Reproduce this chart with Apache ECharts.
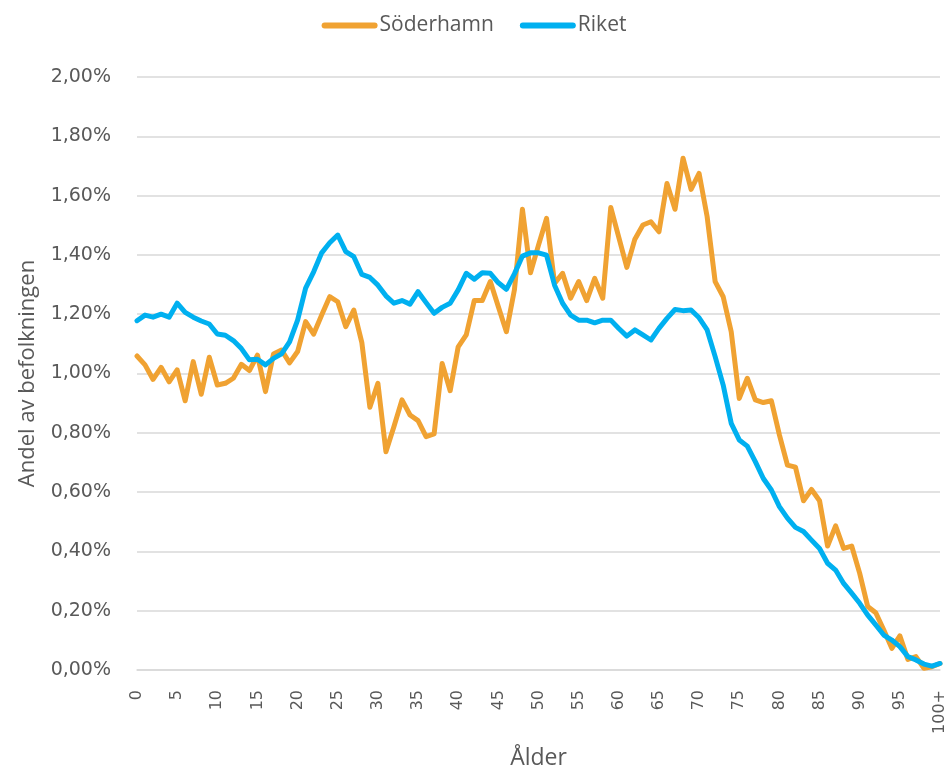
<!DOCTYPE html>
<html>
<head>
<meta charset="utf-8">
<title>Åldersfördelning</title>
<script src="https://cdn.jsdelivr.net/npm/echarts@6/dist/echarts.min.js"></script>
<style>
	html, body { margin: 0; padding: 0; background: #fff; }
	#chart { width: 948px; height: 769px; }
</style>
</head>
<body>
<div id="chart"></div>
<script>
	// ålder 0..100+
	var ages = [];
	for (var a = 0; a < 100; a++) ages.push(String(a));
	ages.push('100+');

	// andel av befolkningen, procent
	var soderhamn = [
		1.059, 1.029, 0.980, 1.021, 0.972, 1.012, 0.908, 1.040, 0.930, 1.055,
		0.961, 0.967, 0.984, 1.031, 1.010, 1.062, 0.939, 1.066, 1.079, 1.036,
		1.074, 1.175, 1.133, 1.197, 1.259, 1.242, 1.158, 1.214, 1.104, 0.886,
		0.967, 0.736, 0.821, 0.911, 0.860, 0.841, 0.787, 0.796, 1.034, 0.942,
		1.090, 1.130, 1.246, 1.246, 1.310, 1.225, 1.141, 1.282, 1.554, 1.340,
		1.433, 1.523, 1.304, 1.338, 1.254, 1.310, 1.246, 1.321, 1.254, 1.560,
		1.459, 1.358, 1.453, 1.501, 1.512, 1.478, 1.641, 1.554, 1.726, 1.621,
		1.675, 1.529, 1.310, 1.259, 1.141, 0.916, 0.984, 0.911, 0.902, 0.908,
		0.793, 0.691, 0.684, 0.571, 0.609, 0.571, 0.418, 0.486, 0.410, 0.418,
		0.326, 0.214, 0.193, 0.135, 0.073, 0.115, 0.036, 0.045, 0.006, 0.011,
		0.022
	];
	var riket = [
		1.178, 1.197, 1.190, 1.200, 1.190, 1.237, 1.206, 1.190, 1.177, 1.167,
		1.133, 1.129, 1.111, 1.084, 1.046, 1.048, 1.029, 1.051, 1.066, 1.107,
		1.180, 1.288, 1.343, 1.407, 1.441, 1.467, 1.411, 1.394, 1.334, 1.324,
		1.298, 1.262, 1.237, 1.246, 1.234, 1.276, 1.239, 1.203, 1.223, 1.237,
		1.282, 1.338, 1.318, 1.340, 1.338, 1.306, 1.284, 1.336, 1.396, 1.407,
		1.407, 1.399, 1.298, 1.237, 1.197, 1.180, 1.180, 1.171, 1.180, 1.180,
		1.152, 1.126, 1.147, 1.130, 1.113, 1.152, 1.186, 1.216, 1.212, 1.214,
		1.188, 1.147, 1.057, 0.961, 0.832, 0.776, 0.755, 0.703, 0.646, 0.607,
		0.551, 0.512, 0.481, 0.467, 0.438, 0.410, 0.360, 0.337, 0.292, 0.259,
		0.225, 0.185, 0.152, 0.118, 0.101, 0.079, 0.045, 0.034, 0.020, 0.013,
		0.022
	];

	var textColor = '#595959';
	var fontName = '"Open Sans", "Noto Sans", sans-serif';
	var numFont = '"DejaVu Sans", sans-serif';
	// rundad linje som legendsymbol
	var legendIcon = 'path://M3,0 L53,0 A3,3 0 0 1 53,6 L3,6 A3,3 0 0 1 3,0 Z';

	var myChart = echarts.init(document.getElementById('chart'));
	var option = {
		animation: false,
		textStyle: { fontFamily: fontName, color: textColor },
		legend: {
			top: 10,
			left: 'center',
			icon: legendIcon,
			itemWidth: 56,
			itemHeight: 6,
			itemGap: 26,
			textStyle: { fontSize: 21, color: textColor, padding: [0, 0, 0, -3] },
			data: ['Söderhamn', 'Riket']
		},
		grid: {
			left: 137,
			right: 8,
			top: 77,
			bottom: 99,
			outerBoundsMode: 'none'
		},
		xAxis: {
			type: 'category',
			data: ages,
			boundaryGap: false,
			name: 'Ålder',
			nameLocation: 'middle',
			nameGap: 77,
			nameTextStyle: { fontSize: 23, color: textColor },
			axisLine: { lineStyle: { color: '#D9D9D9', width: 1.5 } },
			axisTick: { show: false },
			axisLabel: {
				interval: 4,
				rotate: 90,
				fontFamily: numFont,
				fontSize: 16,
				color: textColor,
				margin: 20
			}
		},
		yAxis: {
			type: 'value',
			min: 0,
			max: 2,
			interval: 0.2,
			name: 'Andel av befolkningen',
			nameLocation: 'middle',
			nameGap: 98,
			nameTextStyle: { fontSize: 22, color: textColor },
			axisLine: { show: false },
			axisTick: { show: false },
			splitLine: { lineStyle: { color: '#D9D9D9', width: 1.5 } },
			axisLabel: {
				fontFamily: numFont,
				fontSize: 19,
				color: textColor,
				margin: 26,
				formatter: function (v) {
					return v.toFixed(2).replace('.', ',') + '%';
				}
			}
		},
		series: [
			{
				name: 'Söderhamn',
				type: 'line',
				data: soderhamn,
				symbol: 'none',
				itemStyle: { color: '#F0A232' },
				lineStyle: { color: '#F0A232', width: 5, cap: 'round', join: 'round' }
			},
			{
				name: 'Riket',
				type: 'line',
				data: riket,
				symbol: 'none',
				itemStyle: { color: '#00B0F0' },
				lineStyle: { color: '#00B0F0', width: 5, cap: 'round', join: 'round' }
			}
		]
	};
	myChart.setOption(option);
</script>
</body>
</html>
